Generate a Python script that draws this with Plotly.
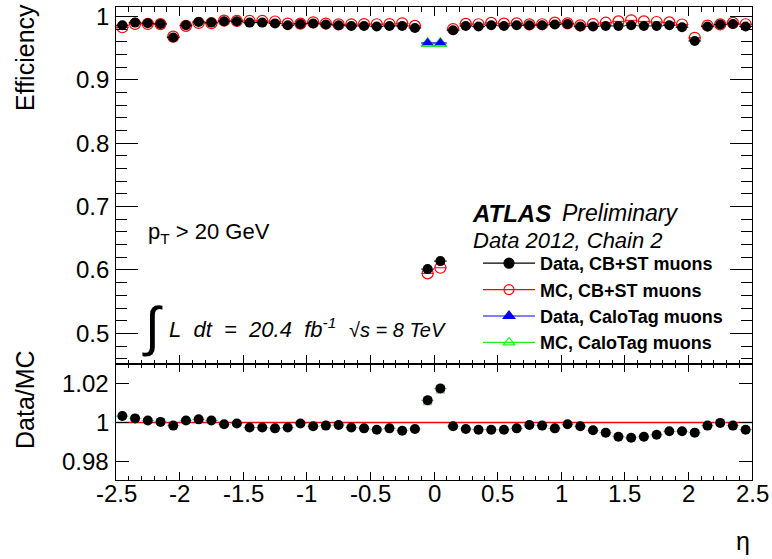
import plotly.graph_objects as go

# ---------------- data ----------------
eta = [-2.45, -2.35, -2.25, -2.15, -2.05, -1.95, -1.85, -1.75, -1.65, -1.55,
       -1.45, -1.35, -1.25, -1.15, -1.05, -0.95, -0.85, -0.75, -0.65, -0.55,
       -0.45, -0.35, -0.25, -0.15, -0.05, 0.05, 0.15, 0.25, 0.35, 0.45,
       0.55, 0.65, 0.75, 0.85, 0.95, 1.05, 1.15, 1.25, 1.35, 1.45,
       1.55, 1.65, 1.75, 1.85, 1.95, 2.05, 2.15, 2.25, 2.35, 2.45]

data_cbst = [0.9863, 0.9905, 0.9894, 0.9884, 0.9669, 0.9863, 0.9915, 0.9905, 0.9926, 0.9926,
             0.9905, 0.9905, 0.9892, 0.9863, 0.9884, 0.9890, 0.9874, 0.9863, 0.9852, 0.9852,
             0.9842, 0.9852, 0.9852, 0.9820, 0.6014, 0.6140, 0.9784, 0.9852, 0.9842, 0.9863,
             0.9852, 0.9863, 0.9863, 0.9863, 0.9874, 0.9884, 0.9842, 0.9842, 0.9852, 0.9852,
             0.9863, 0.9852, 0.9852, 0.9863, 0.9831, 0.9615, 0.9842, 0.9874, 0.9884, 0.9842]

mc_cbst = [0.9831, 0.9884, 0.9884, 0.9881, 0.9684, 0.9853, 0.9899, 0.9895, 0.9935, 0.9931,
           0.9931, 0.9931, 0.9922, 0.9889, 0.9889, 0.9909, 0.9890, 0.9876, 0.9878, 0.9882,
           0.9879, 0.9882, 0.9894, 0.9853, 0.5946, 0.6035, 0.9803, 0.9885, 0.9879, 0.9900,
           0.9889, 0.9893, 0.9876, 0.9879, 0.9904, 0.9893, 0.9861, 0.9882, 0.9903, 0.9924,
           0.9941, 0.9924, 0.9914, 0.9908, 0.9875, 0.9665, 0.9858, 0.9876, 0.9900, 0.9879]

ratio_cbst = [1.0033, 1.0021, 1.0010, 1.0003, 0.9984, 1.0010, 1.0016, 1.0010, 0.9991, 0.9995,
              0.9974, 0.9974, 0.9970, 0.9974, 0.9995, 0.9981, 0.9984, 0.9987, 0.9974, 0.9970,
              0.9963, 0.9970, 0.9958, 0.9967, 1.0114, 1.0174, 0.9981, 0.9967, 0.9963, 0.9963,
              0.9963, 0.9970, 0.9987, 0.9984, 0.9970, 0.9991, 0.9981, 0.9960, 0.9948, 0.9927,
              0.9922, 0.9927, 0.9937, 0.9955, 0.9955, 0.9948, 0.9984, 0.9998, 0.9984, 0.9963]

eta_calo = [-0.05, 0.05]
data_calo = [0.9585, 0.9585]
mc_calo = [0.9575, 0.9575]
ratio_calo = [1.0111, 1.0171]

bin_half = 0.05

x_tickvals = [-2.5, -2.0, -1.5, -1.0, -0.5, 0.0, 0.5, 1.0, 1.5, 2.0, 2.5]
x_ticktext = ["-2.5", "-2", "-1.5", "-1", "-0.5", "0", "0.5", "1", "1.5", "2", "2.5"]
y_tickvals = [0.5, 0.6, 0.7, 0.8, 0.9, 1.0]
y_ticktext = ["0.5", "0.6", "0.7", "0.8", "0.9", "1"]
r_tickvals = [0.98, 1.0, 1.02]
r_ticktext = ["0.98", "1", "1.02"]

legend_labels = ["Data, CB+ST muons", "MC, CB+ST muons",
                 "Data, CaloTag muons", "MC, CaloTag muons"]

# minor tick positions
x_minor = [round(-2.5 + 0.1 * i, 2) for i in range(51) if i % 5 != 0]
y_minor = [round(0.46 + 0.02 * i, 2) for i in range(28) if (i % 5) != 2]

# ---------------- figure ----------------
FONT = "Liberation Sans, Arial, sans-serif"
W, H = 772, 559
ML, MR, MT, MB = 116, 20, 7, 79

fig = go.Figure()

def xerr(n, color, thick=1):
    return dict(type="data", array=[bin_half] * n, symmetric=True,
                color=color, thickness=thick, width=0)

# top panel
fig.add_trace(go.Scatter(x=eta, y=mc_cbst, mode="markers", showlegend=False,
                         error_x=xerr(len(eta), "red"),
                         marker=dict(symbol="circle-open", size=11, color="red",
                                     line=dict(width=1.2, color="red")),
                         xaxis="x", yaxis="y"))
fig.add_trace(go.Scatter(x=eta, y=data_cbst, mode="markers", showlegend=False,
                         error_x=xerr(len(eta), "black"),
                         marker=dict(symbol="circle", size=10, color="black"),
                         xaxis="x", yaxis="y"))
fig.add_trace(go.Scatter(x=eta_calo, y=mc_calo, mode="markers", showlegend=False,
                         error_x=xerr(2, "#22ee22"),
                         marker=dict(symbol="triangle-up-open", size=11, color="#22ee22",
                                     line=dict(width=1.5, color="#22ee22")),
                         xaxis="x", yaxis="y"))
fig.add_trace(go.Scatter(x=eta_calo, y=data_calo, mode="markers", showlegend=False,
                         error_x=xerr(2, "blue"),
                         marker=dict(symbol="triangle-up", size=10, color="blue"),
                         xaxis="x", yaxis="y"))

# bottom panel
fig.add_trace(go.Scatter(x=eta_calo, y=ratio_calo, mode="markers", showlegend=False,
                         marker=dict(symbol="square", size=9, color="#8fc08f"),
                         xaxis="x2", yaxis="y2"))
fig.add_trace(go.Scatter(x=eta, y=ratio_cbst, mode="markers", showlegend=False,
                         error_x=xerr(len(eta), "rgba(120,180,120,0.8)"),
                         marker=dict(symbol="circle", size=10, color="black"),
                         xaxis="x2", yaxis="y2"))

# legend entries
leg_styles = [
    dict(color="black", symbol="circle", lc="black"),
    dict(color="red", symbol="circle-open", lc="red"),
    dict(color="blue", symbol="triangle-up", lc="blue"),
    dict(color="#22ee22", symbol="triangle-up-open", lc="#22ee22"),
]
for i, (lab, st) in enumerate(zip(legend_labels, leg_styles)):
    fig.add_trace(go.Scatter(x=[None], y=[None], mode="lines+markers", name=lab,
                             legendgroup=f"g{i}",
                             line=dict(color=st["lc"], width=1.2),
                             marker=dict(symbol=st["symbol"], size=10, color=st["color"],
                                         line=dict(width=1.2, color=st["color"])),
                             xaxis="x", yaxis="y"))

# ratio reference line
fig.add_shape(type="line", xref="x2 domain", yref="y2", x0=0, x1=1, y0=1, y1=1,
              line=dict(color="red", width=1.5), layer="below")

plot_h = H - MT - MB
plot_w = W - ML - MR
split = (480 - 364) / plot_h

def px2x(px):
    return (px - ML) / plot_w

def py2y(py):
    return (H - MB - py) / plot_h

axis_common = dict(showline=True, linecolor="black", linewidth=1, mirror="allticks",
                   ticks="inside", tickcolor="black", showgrid=False, zeroline=False,
                   showticklabels=False)

fig.update_layout(
    width=W, height=H,
    margin=dict(l=ML, r=MR, t=MT, b=MB),
    paper_bgcolor="white", plot_bgcolor="white",
    font=dict(family=FONT, color="black"),
    xaxis=dict(domain=[0, 1], anchor="y", range=[-2.5, 2.5],
               tickvals=x_tickvals, ticklen=9,
               minor=dict(tickmode="array", tickvals=x_minor, ticks="inside",
                          ticklen=4.5, tickcolor="black"),
               **axis_common),
    yaxis=dict(domain=[split, 1], anchor="x", range=[0.4516, 1.0151],
               tickvals=y_tickvals, ticklen=22,
               minor=dict(tickmode="array", tickvals=y_minor, ticks="inside",
                          ticklen=11, tickcolor="black"),
               **axis_common),
    xaxis2=dict(domain=[0, 1], anchor="y2", range=[-2.5, 2.5], matches="x",
                tickvals=x_tickvals, ticklen=8,
                minor=dict(tickmode="array", tickvals=x_minor, ticks="inside",
                           ticklen=4, tickcolor="black"),
                **axis_common),
    yaxis2=dict(domain=[0, split], anchor="x2", range=[0.9705, 1.030],
                tickvals=r_tickvals, ticklen=13,
                **axis_common),
    legend=dict(x=px2x(478), y=py2y(245), xanchor="left", yanchor="top",
                bgcolor="rgba(0,0,0,0)", borderwidth=0,
                font=dict(family=FONT, size=18, color="black", weight="bold"),
                itemwidth=52, tracegroupgap=0, traceorder="normal"),
    showlegend=True,
)

ann = []
# tick labels
TICKFONT = dict(family=FONT, size=24, color="black")
for v, t in zip(y_tickvals, y_ticktext):
    ann.append(dict(text=t, xref="paper", yref="y", x=px2x(111), y=v,
                    xanchor="right", yanchor="middle", font=TICKFONT, showarrow=False))
for v, t in zip(r_tickvals, r_ticktext):
    ann.append(dict(text=t, xref="paper", yref="y2", x=px2x(111), y=v,
                    xanchor="right", yanchor="middle", font=TICKFONT, showarrow=False))
for v, t in zip(x_tickvals, x_ticktext):
    ann.append(dict(text=t, xref="x2", yref="paper", x=v, y=py2y(494),
                    xanchor="center", yanchor="middle", font=TICKFONT, showarrow=False))

txt = []
txt.append(dict(text="Efficiency", textangle=-90, x=px2x(25), y=py2y(58),
                xanchor="center", yanchor="middle",
                font=dict(family=FONT, size=25)))
txt.append(dict(text="Data/MC", textangle=-90, x=px2x(25), y=py2y(400),
                xanchor="center", yanchor="middle",
                font=dict(family=FONT, size=25)))
txt.append(dict(text="η", x=px2x(743), y=py2y(541), xanchor="center", yanchor="middle",
                font=dict(family=FONT, size=25)))
txt.append(dict(text="<b><i>ATLAS</i></b>", x=px2x(470), y=py2y(213),
                xanchor="left", yanchor="middle", font=dict(family=FONT, size=24)))
txt.append(dict(text="<i>Preliminary</i>", x=px2x(560), y=py2y(213),
                xanchor="left", yanchor="middle", font=dict(family=FONT, size=23)))
txt.append(dict(text="<i>Data 2012, Chain 2</i>", x=px2x(471), y=py2y(240),
                xanchor="left", yanchor="middle", font=dict(family=FONT, size=22)))
txt.append(dict(text="p<sub>T</sub> > 20 GeV", x=px2x(146), y=py2y(233),
                xanchor="left", yanchor="middle", font=dict(family=FONT, size=22)))
txt.append(dict(text="∫", x=px2x(152), y=py2y(326),
                xanchor="center", yanchor="middle", font=dict(family=FONT, size=54)))
txt.append(dict(text="<i>L&nbsp;&nbsp;dt&nbsp;&nbsp;=&nbsp;&nbsp;20.4&nbsp;&nbsp;fb<sup>-1</sup></i>",
                x=px2x(167), y=py2y(328),
                xanchor="left", yanchor="middle", font=dict(family=FONT, size=22)))
txt.append(dict(text="<i>√s = 8 TeV</i>", x=px2x(347), y=py2y(330),
                xanchor="left", yanchor="middle", font=dict(family=FONT, size=20)))
for a in txt:
    a.update(xref="paper", yref="paper", showarrow=False)
fig.update_layout(annotations=ann + txt)

fig.write_html("out.html",
               config={"displayModeBar": False},
               post_script="document.body.style.margin='0';document.body.style.padding='0';")
